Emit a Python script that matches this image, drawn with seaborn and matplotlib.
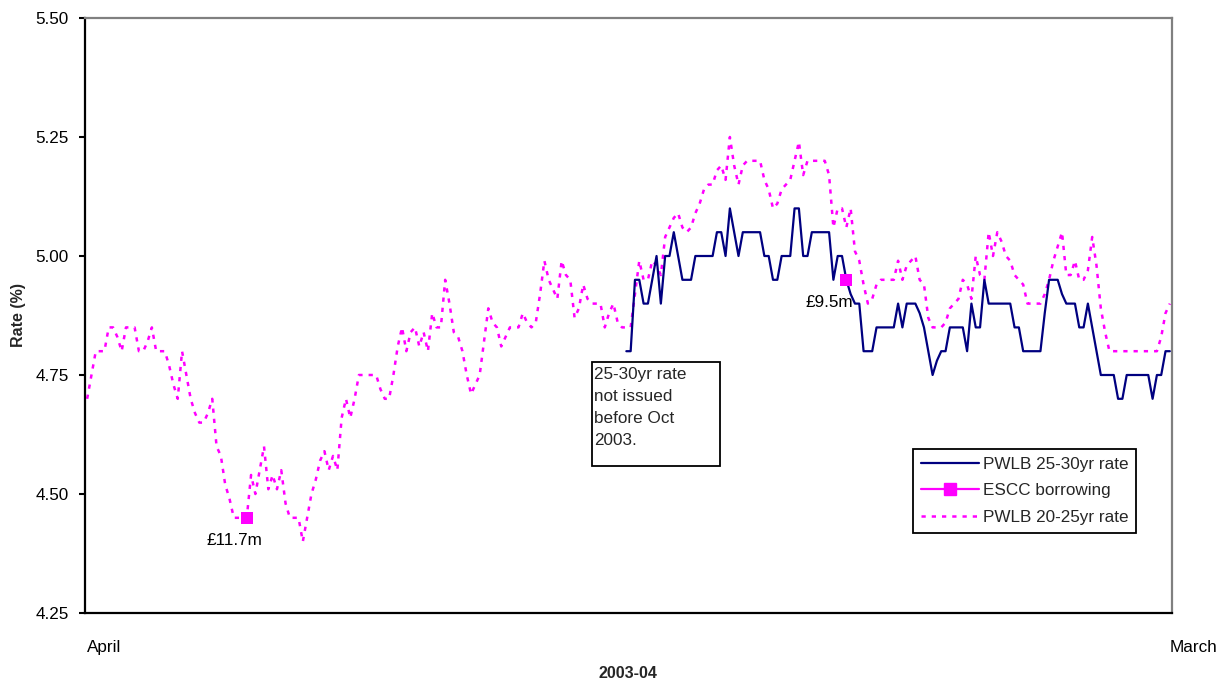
import numpy as np
import pandas as pd
import matplotlib
matplotlib.use("Agg")
import matplotlib.pyplot as plt
import seaborn as sns
from matplotlib.lines import Line2D
from matplotlib.patches import Rectangle

# ---------------- data ----------------
x_labels = ["April", "March"]
series_names = ["PWLB 25-30yr rate", "ESCC borrowing", "PWLB 20-25yr rate"]

pwlb_20_25 = [
    4.70, 4.75, 4.80, 4.80, 4.80, 4.85, 4.85, 4.83, 4.80, 4.85,
    4.85, 4.85, 4.80, 4.80, 4.82, 4.85, 4.80, 4.80, 4.80, 4.77,
    4.73, 4.70, 4.80, 4.75, 4.70, 4.67, 4.65, 4.65, 4.67, 4.70,
    4.60, 4.58, 4.52, 4.49, 4.45, 4.45, 4.45, 4.45, 4.54, 4.50,
    4.55, 4.60, 4.51, 4.54, 4.51, 4.55, 4.48, 4.45, 4.45, 4.45,
    4.40, 4.45, 4.50, 4.53, 4.57, 4.59, 4.55, 4.58, 4.55, 4.66,
    4.70, 4.66, 4.70, 4.75, 4.75, 4.75, 4.75, 4.75, 4.72, 4.70,
    4.70, 4.75, 4.81, 4.85, 4.80, 4.84, 4.85, 4.81, 4.84, 4.80,
    4.88, 4.85, 4.85, 4.95, 4.90, 4.84, 4.83, 4.80, 4.75, 4.71,
    4.73, 4.75, 4.82, 4.89, 4.86, 4.85, 4.81, 4.83, 4.85, 4.85,
    4.85, 4.88, 4.86, 4.85, 4.86, 4.92, 4.99, 4.95, 4.93, 4.91,
    4.99, 4.96, 4.95, 4.87, 4.89, 4.94, 4.91, 4.90, 4.90, 4.90,
    4.85, 4.88, 4.90, 4.86, 4.85, 4.85, 4.85, 4.92, 4.99, 4.95,
    4.95, 4.99, 4.98, 4.96, 5.04, 5.06, 5.08, 5.09, 5.06, 5.05,
    5.06, 5.09, 5.11, 5.14, 5.15, 5.15, 5.18, 5.19, 5.16, 5.25,
    5.19, 5.15, 5.19, 5.20, 5.20, 5.20, 5.20, 5.16, 5.14, 5.10,
    5.11, 5.14, 5.15, 5.16, 5.20, 5.24, 5.17, 5.20, 5.20, 5.20,
    5.20, 5.20, 5.17, 5.06, 5.10, 5.10, 5.06, 5.10, 5.01, 4.99,
    4.94, 4.90, 4.91, 4.94, 4.95, 4.95, 4.95, 4.95, 4.99, 4.95,
    4.98, 4.99, 5.00, 4.95, 4.94, 4.87, 4.85, 4.85, 4.85, 4.86,
    4.89, 4.90, 4.91, 4.95, 4.94, 4.91, 5.00, 4.96, 4.95, 5.05,
    5.00, 5.05, 5.03, 5.00, 4.99, 4.96, 4.95, 4.94, 4.90, 4.90,
    4.90, 4.90, 4.92, 4.95, 4.99, 5.02, 5.05, 4.96, 4.96, 4.99,
    4.95, 4.95, 4.97, 5.04, 4.98, 4.89, 4.84, 4.80, 4.80, 4.80,
    4.80, 4.80, 4.80, 4.80, 4.80, 4.80, 4.80, 4.80, 4.80, 4.83,
    4.88, 4.90,
]

pwlb_25_30_start = 125
pwlb_25_30 = [
    4.80, 4.80, 4.95, 4.95, 4.90,
    4.90, 4.95, 5.00, 4.90, 5.00, 5.00, 5.05, 5.00, 4.95, 4.95,
    4.95, 5.00, 5.00, 5.00, 5.00, 5.00, 5.05, 5.05, 5.00, 5.10,
    5.05, 5.00, 5.05, 5.05, 5.05, 5.05, 5.05, 5.00, 5.00, 4.95,
    4.95, 5.00, 5.00, 5.00, 5.10, 5.10, 5.00, 5.00, 5.05, 5.05,
    5.05, 5.05, 5.05, 4.95, 5.00, 5.00, 4.95, 4.92, 4.90, 4.90,
    4.80, 4.80, 4.80, 4.85, 4.85, 4.85, 4.85, 4.85, 4.90, 4.85,
    4.90, 4.90, 4.90, 4.88, 4.85, 4.80, 4.75, 4.78, 4.80, 4.80,
    4.85, 4.85, 4.85, 4.85, 4.80, 4.90, 4.85, 4.85, 4.95, 4.90,
    4.90, 4.90, 4.90, 4.90, 4.90, 4.85, 4.85, 4.80, 4.80, 4.80,
    4.80, 4.80, 4.88, 4.95, 4.95, 4.95, 4.92, 4.90, 4.90, 4.90,
    4.85, 4.85, 4.90, 4.85, 4.80, 4.75, 4.75, 4.75, 4.75, 4.70,
    4.70, 4.75, 4.75, 4.75, 4.75, 4.75, 4.75, 4.70, 4.75, 4.75,
    4.80, 4.80,
]

escc_day = [37, 176]
escc_rate = [4.45, 4.95]
escc_labels = ["£11.7m", "£9.5m"]

y_ticks = [4.25, 4.50, 4.75, 5.00, 5.25, 5.50]
note_text = "25-30yr rate\nnot issued\nbefore Oct\n2003."

# ---------------- frames ----------------
n = len(pwlb_20_25)
df_2025 = pd.DataFrame({"day": np.arange(n), "rate": pwlb_20_25})
df_2530 = pd.DataFrame({"day": np.arange(pwlb_25_30_start, pwlb_25_30_start + len(pwlb_25_30)),
                        "rate": pwlb_25_30})
df_escc = pd.DataFrame({"day": escc_day, "rate": escc_rate})

# ---------------- style ----------------
sns.set_theme(style="white")
plt.rcParams["font.family"] = ["Liberation Sans", "DejaVu Sans"]
FS = 12.3

W, H = 1230, 682
fig = plt.figure(figsize=(W / 100, H / 100), dpi=100)
ax = fig.add_axes([85 / W, 1 - 613 / H, 1087 / W, 595 / H])

navy = "#000080"
pink = "#FF00FF"
dot = (0, (1.7, 2.4))

sns.lineplot(data=df_2530, x="day", y="rate", ax=ax, color=navy, linewidth=1.6,
             estimator=None, sort=False, zorder=3)
sns.lineplot(data=df_2025, x="day", y="rate", ax=ax, color=pink, linewidth=1.8,
             estimator=None, sort=False, zorder=2, linestyle=dot)
sns.scatterplot(data=df_escc, x="day", y="rate", ax=ax, color=pink, marker="s",
                s=78, edgecolor=pink, linewidth=0, zorder=4)

offsets = [(-9, -16), (-12, -16.5)]
for d, r, lab, off in zip(escc_day, escc_rate, escc_labels, offsets):
    ax.annotate(lab, (d, r), xytext=off, textcoords="offset points",
                ha="center", va="center", fontsize=FS, color="black")

ax.set_xlim(-0.5, n - 0.5)
ax.set_ylim(4.25, 5.50)
ax.set_yticks(y_ticks)
ax.set_yticklabels([f"{v:.2f}" for v in y_ticks])
ax.set_xticks([0, n - 1])
ax.set_xticklabels(x_labels, ha="left")
ax.set_xlabel("")
ax.set_ylabel("")

ax.tick_params(axis="y", direction="out", length=4.5, width=1.5, pad=7,
               labelsize=FS, colors="black", left=True)
ax.tick_params(axis="x", length=0, pad=19.5, labelsize=FS, colors="black")

for side in ["left", "bottom"]:
    ax.spines[side].set_color("black")
    ax.spines[side].set_linewidth(1.6)
for side in ["top", "right"]:
    ax.spines[side].set_visible(True)
    ax.spines[side].set_color("#808080")
    ax.spines[side].set_linewidth(1.6)
ax.grid(False)

fig.text(18 / W, 1 - 315 / H, "Rate (%)", rotation=90, ha="center", va="center",
         fontsize=11.5, fontweight="bold")
fig.text(628 / W, 1 - 673 / H, "2003-04", ha="center", va="center",
         fontsize=11.5, fontweight="bold")

# note box
fig.patches.append(Rectangle((592 / W, 1 - 466 / H), 128 / W, 104 / H,
                             transform=fig.transFigure, fill=True, facecolor="white",
                             edgecolor="black", linewidth=1.3, zorder=5))
fig.text(594 / W, 1 - 367 / H, note_text, ha="left", va="top", fontsize=FS,
         linespacing=1.58, zorder=6)

handles = [
    Line2D([], [], color=navy, linewidth=1.6),
    Line2D([], [], color=pink, linewidth=1.6, marker="s", markersize=8),
    Line2D([], [], color=pink, linewidth=1.8, linestyle=dot),
]
leg = fig.legend(handles, series_names, loc="upper left",
                 bbox_to_anchor=(913 / W, 1 - 449 / H), bbox_transform=fig.transFigure,
                 frameon=True, fancybox=False, shadow=False, fontsize=FS,
                 handlelength=3.4, handletextpad=0.25, labelspacing=0.68,
                 borderpad=0.45, borderaxespad=0)
leg.get_frame().set_edgecolor("black")
leg.get_frame().set_linewidth(1.3)
leg.get_frame().set_facecolor("white")
leg.get_frame().set_alpha(1)

fig.savefig("out.png", dpi=100)
